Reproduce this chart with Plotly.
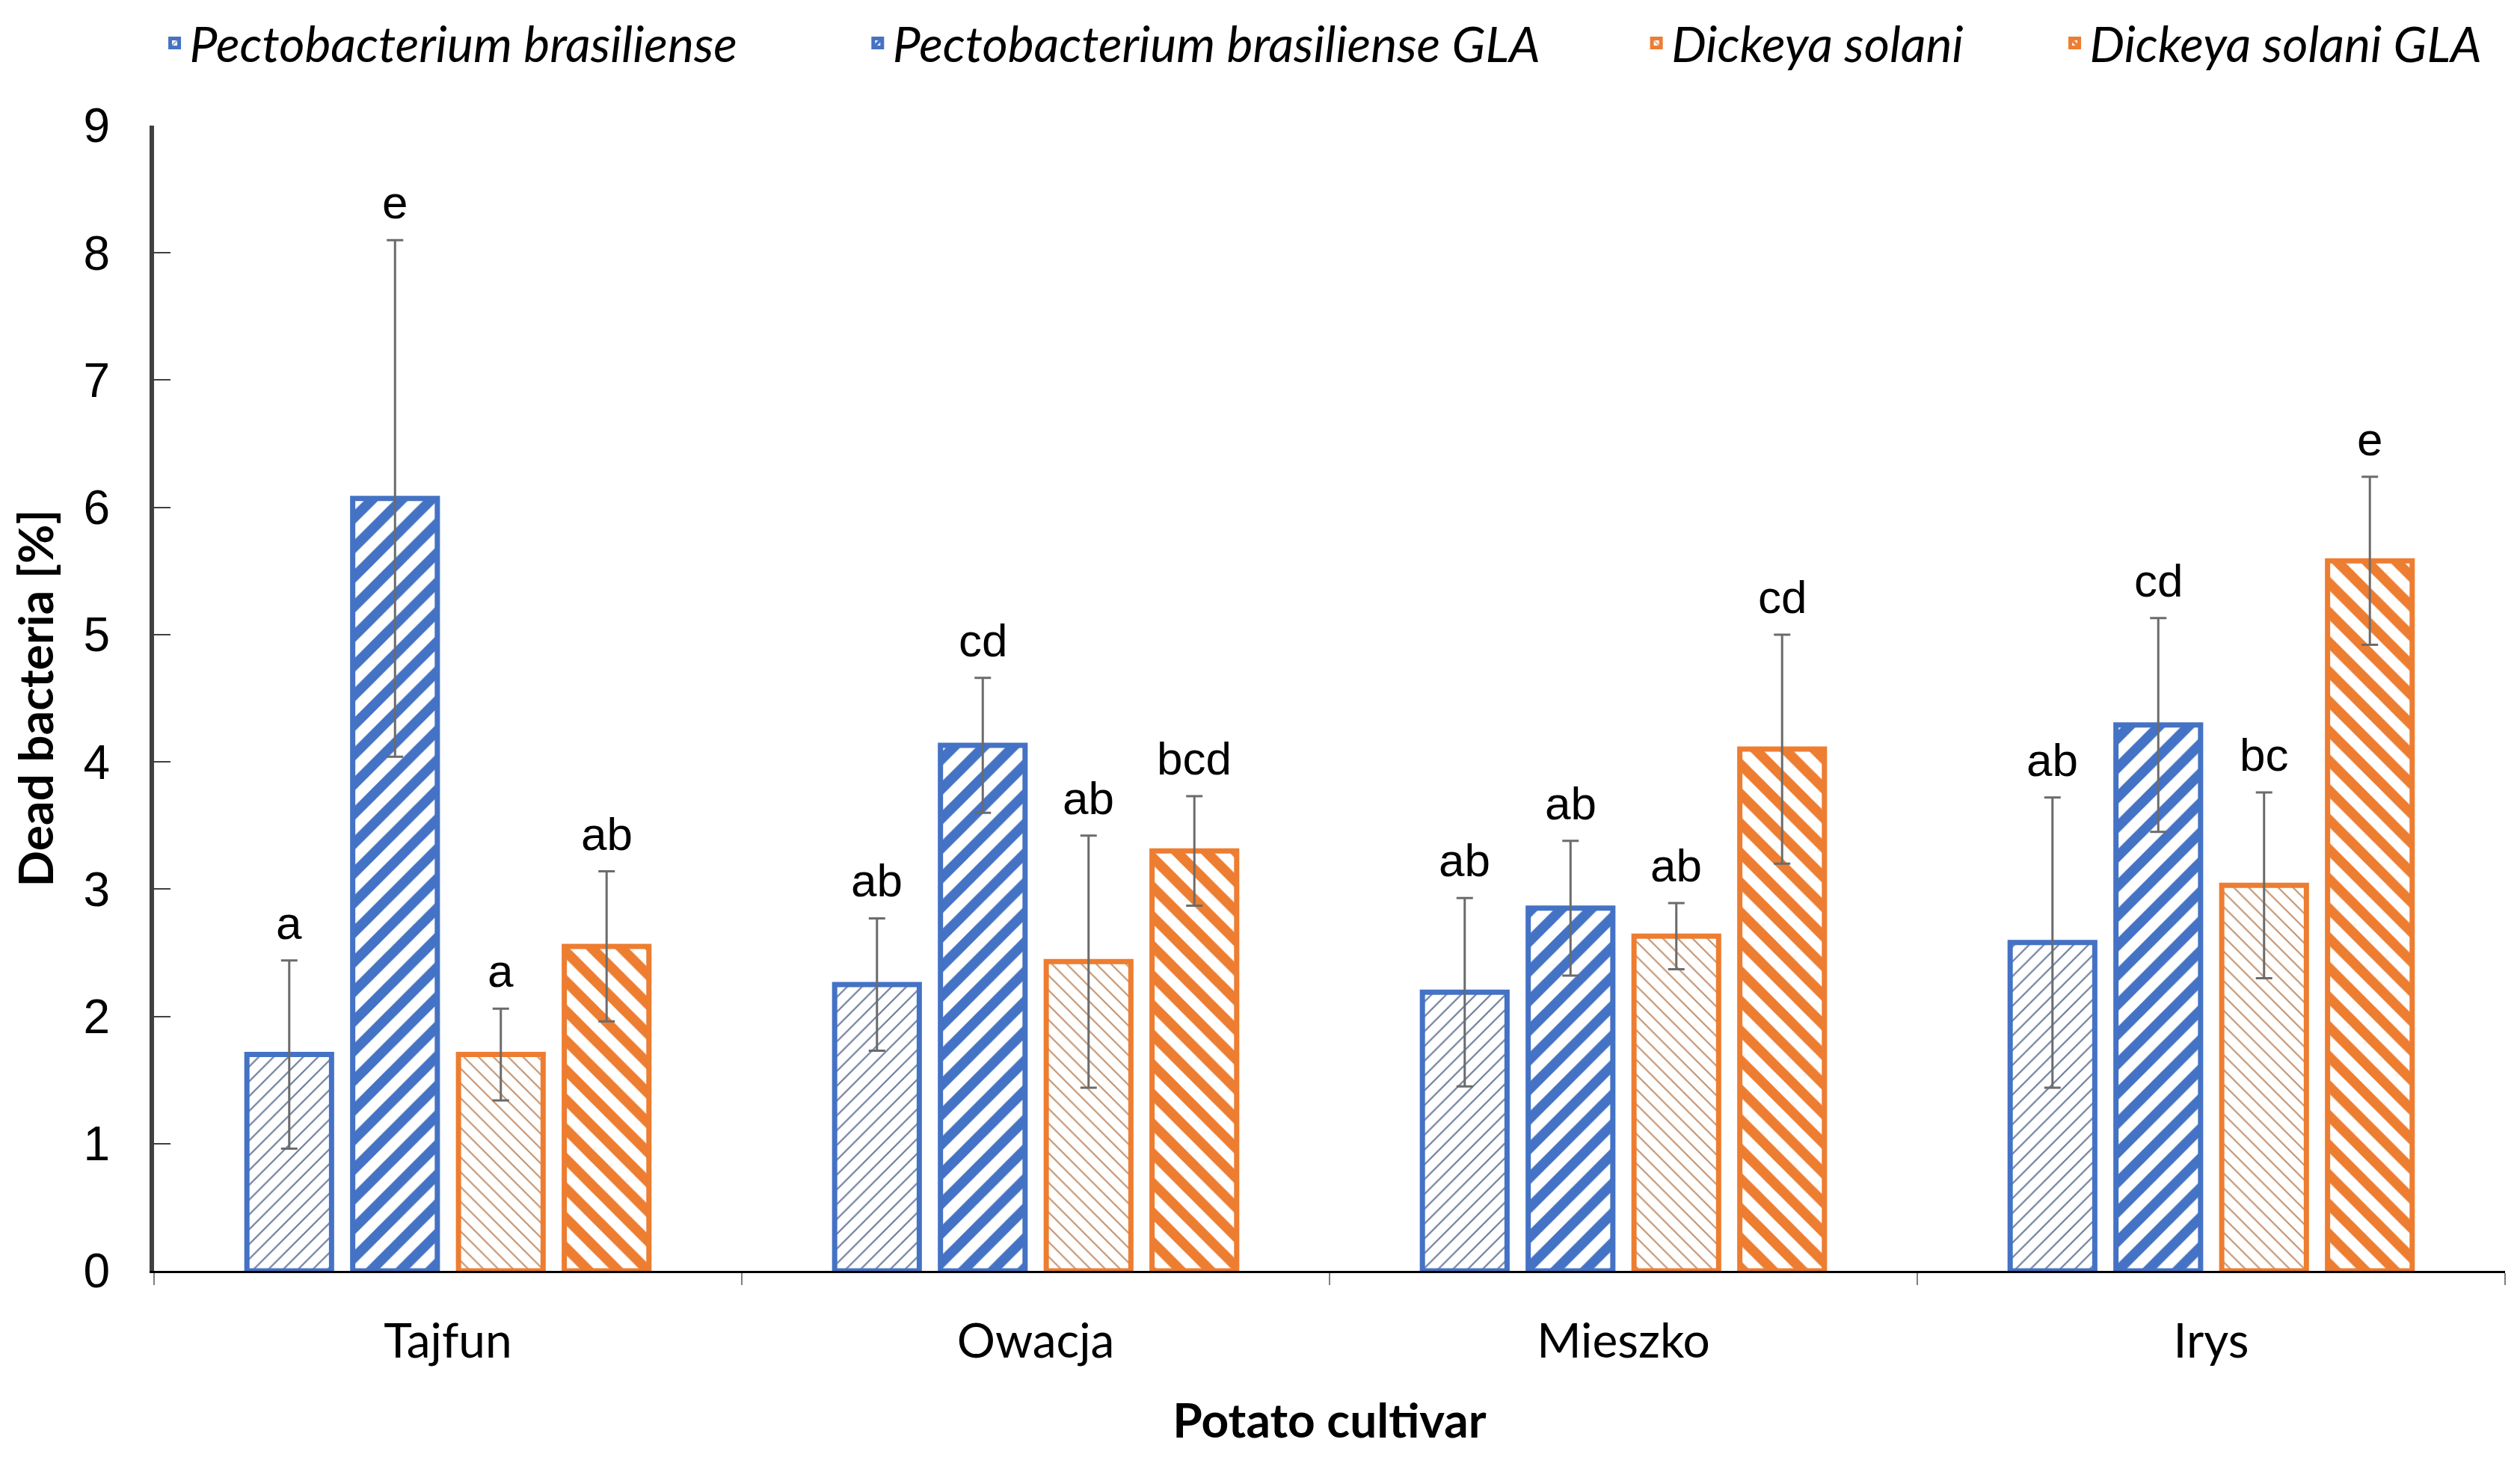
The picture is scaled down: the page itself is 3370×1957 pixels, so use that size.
import plotly.graph_objects as go

cultivars = ["Tajfun", "Owacja", "Mieszko", "Irys"]
series_names = ["Pectobacterium brasiliense", "Pectobacterium brasiliense GLA",
                "Dickeya solani", "Dickeya solani GLA"]
pb = [1.70, 2.25, 2.19, 2.58]
pb_err = [0.74, 0.52, 0.74, 1.14]
pb_gla = [6.07, 4.13, 2.85, 4.29]
pb_gla_err = [2.03, 0.53, 0.53, 0.84]
ds = [1.70, 2.43, 2.63, 3.03]
ds_err = [0.36, 0.99, 0.26, 0.73]
ds_gla = [2.55, 3.30, 4.10, 5.58]
ds_gla_err = [0.59, 0.43, 0.90, 0.66]
letters_pb = ["a", "ab", "ab", "ab"]
letters_pb_gla = ["e", "cd", "ab", "cd"]
letters_ds = ["a", "ab", "ab", "bc"]
letters_ds_gla = ["ab", "bcd", "cd", "e"]
y_ticks = [0, 1, 2, 3, 4, 5, 6, 7, 8, 9]

BLUE = "#4472C4"
ORANGE = "#ED7D31"
values = [pb, pb_gla, ds, ds_gla]
errors = [pb_err, pb_gla_err, ds_err, ds_gla_err]
letters = [letters_pb, letters_pb_gla, letters_ds, letters_ds_gla]
colors = [BLUE, BLUE, ORANGE, ORANGE]
patterns = [
    dict(shape="/", size=14, solidity=0.15, fgcolor="#6a7a9c", bgcolor="white", fgopacity=1),
    dict(shape="/", size=28, solidity=0.48, fgcolor=BLUE, bgcolor="white", fgopacity=1),
    dict(shape="\\", size=14, solidity=0.15, fgcolor="#c4926e", bgcolor="white", fgopacity=1),
    dict(shape="\\", size=28, solidity=0.48, fgcolor=ORANGE, bgcolor="white", fgopacity=1),
]
legend_ids = ["legend", "legend2", "legend3", "legend4"]
legend_x = [0.061, 0.340, 0.649, 0.815]

fig = go.Figure()
for name, v, e, c, p, lg in zip(series_names, values, errors, colors, patterns, legend_ids):
    fig.add_trace(go.Bar(
        name=name, x=cultivars, y=v, legend=lg,
        marker=dict(color="white", line=dict(color=c, width=7), pattern=p),
        error_y=dict(type="data", array=e, color="#6b6b6b", thickness=3, width=11),
    ))

bargap = 0.28
slot = (1 - bargap) / 4
for k, (v, e, lab) in enumerate(zip(values, errors, letters)):
    off = (k - 1.5) * slot
    for i in range(len(cultivars)):
        fig.add_annotation(x=i + off, y=v[i] + e[i], text=lab[i], showarrow=False,
                           yanchor="bottom", yshift=14,
                           font=dict(family="Liberation Sans, Arial", size=62, color="black"))

legend_style = dict(orientation="h", xref="container", yref="container",
                    y=1.0, xanchor="left", yanchor="top",
                    font=dict(family="Lato", size=66, color="black", style="italic"),
                    itemwidth=30)
fig.update_layout(
    width=3370, height=1957,
    margin=dict(l=198, r=28, t=160, b=265),
    plot_bgcolor="white", paper_bgcolor="white",
    barmode="group", bargap=bargap, bargroupgap=0.2,
    showlegend=True,
    **{lg: dict(legend_style, x=lx) for lg, lx in zip(legend_ids, legend_x)},
)
fig.update_xaxes(
    showline=True, linecolor="black", linewidth=3,
    ticks="outside", tickson="boundaries", ticklen=16, tickcolor="#7f7f7f", tickwidth=2,
    tickfont=dict(family="Lato", size=64, color="black"),
    ticklabelstandoff=36,
    title=dict(text="<b>Potato cultivar</b>", font=dict(family="Lato", size=64, color="black"),
               standoff=50),
)
fig.update_yaxes(
    range=[0, 9], tickvals=y_ticks, showgrid=False, zeroline=False,
    showline=True, linecolor="#404040", linewidth=6,
    ticks="inside", ticklen=22, tickcolor="#404040", tickwidth=2,
    tickfont=dict(family="Liberation Sans, Arial", size=64, color="black"),
    ticklabelstandoff=40,
    title=dict(text="<b>Dead bacteria [%]</b>", font=dict(family="Lato", size=64, color="black"),
               standoff=24),
)
fig.write_html("out.html")
